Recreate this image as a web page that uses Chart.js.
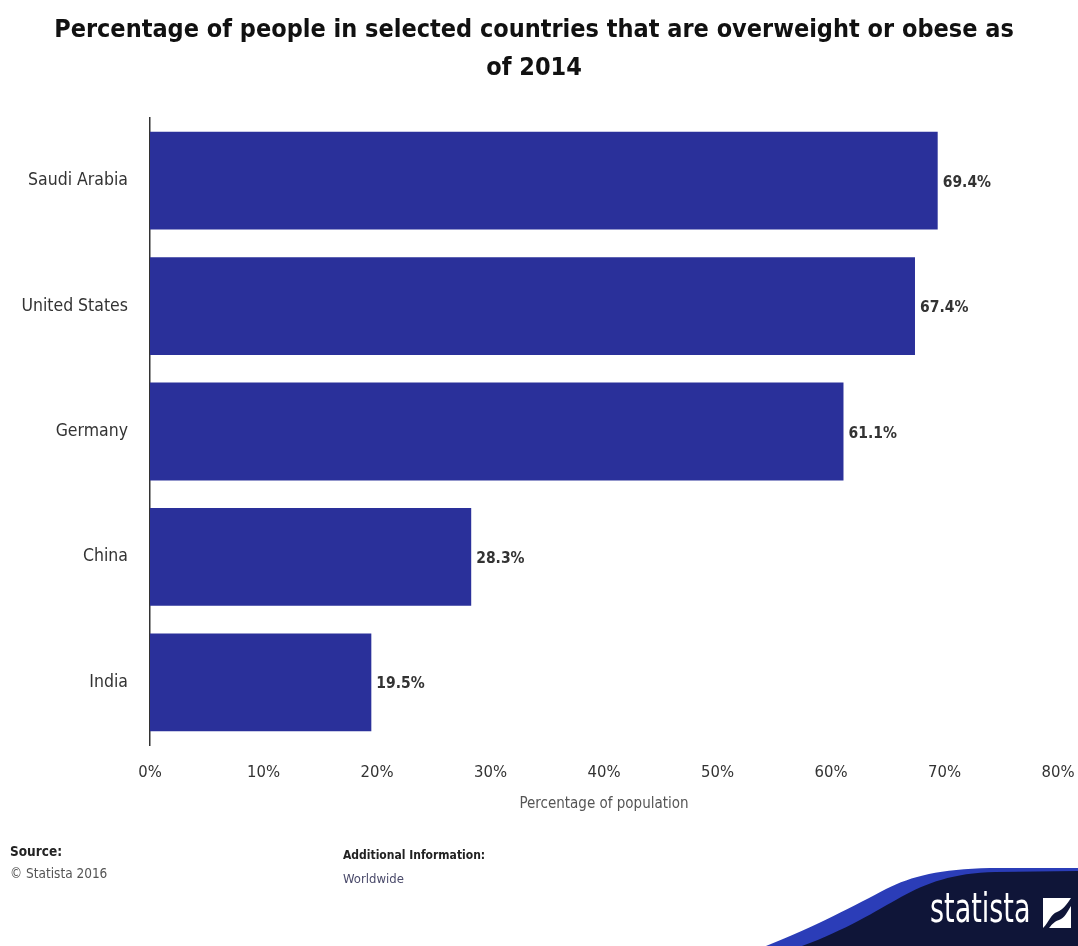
<!DOCTYPE html>
<html>
<head>
<meta charset="utf-8">
<script src="https://cdn.jsdelivr.net/npm/chart.js@4.4.1/dist/chart.umd.min.js"></script>
<style>
  html, body { margin: 0; padding: 0; background: #fff; }
  #wrap { position: relative; width: 1078px; height: 946px; overflow: hidden; font-family: "DejaVu Sans Condensed", "DejaVu Sans", sans-serif; }
  #chart { position: absolute; left: 0; top: 0; }
  .foot { position: absolute; white-space: nowrap; }
  .lbl { font-weight: bold; color: #222; font-size: 13.5px; }
  .val { color: #555; font-size: 13.5px; }
  #swoosh { position: absolute; left: 0; top: 0; }
  #brand { position: absolute; left: 930px; top: 884px; color: #fff; font-size: 40px; line-height: 48px; transform: scaleX(0.75); transform-origin: left top; }
</style>
</head>
<body>
<div id="wrap">
  <canvas id="chart" width="1078" height="946"></canvas>

  <div class="foot lbl" style="left:10px; top:843px;">Source:</div>
  <div class="foot val" style="left:10px; top:865px;">© Statista 2016</div>
  <div class="foot lbl" style="left:343px; top:848px; font-size:12px;">Additional Information:</div>
  <div class="foot val" style="left:343px; top:871px; font-size:13px; color:#4a4a6a;">Worldwide</div>

  <svg id="swoosh" width="1078" height="946" viewBox="0 0 1078 946">
    <path d="M 766 946 C 816 926, 856 905, 886 889 C 912 876, 940 869, 990 868 L 1078 868 L 1078 946 Z" fill="#2b3db8"/>
    <path d="M 802 946 C 846 930, 876 911, 901 897 C 927 883, 952 873, 996 872 L 1078 871 L 1078 946 Z" fill="#0f1538"/>
    <g transform="translate(1043,898)">
      <rect x="0" y="0" width="28" height="30" fill="#fff"/>
      <path d="M 0 30 C 6 24, 8 16, 14 14 C 20 12, 24 6, 28 0 L 28 8 C 24 14, 22 20, 16 22 C 10 24, 8 28, 6 30 Z" fill="#0f1538"/>
    </g>
  </svg>
  <div id="brand">statista</div>
</div>

<script>
// values
const countries = ["Saudi Arabia", "United States", "Germany", "China", "India"];
const shares = [69.4, 67.4, 61.1, 28.3, 19.5];
const xTicks = [0, 10, 20, 30, 40, 50, 60, 70, 80];

const barColor = "#2a309a";
const fontFamily = "'DejaVu Sans Condensed', 'DejaVu Sans', sans-serif";

// write the value next to each bar
const valueLabels = {
  id: "valueLabels",
  afterDatasetsDraw(chart) {
    const ctx = chart.ctx;
    const meta = chart.getDatasetMeta(0);
    ctx.save();
    ctx.font = "bold 15.5px " + fontFamily;
    ctx.fillStyle = "#333";
    ctx.textAlign = "left";
    ctx.textBaseline = "middle";
    meta.data.forEach((bar, i) => {
      ctx.fillText(shares[i].toFixed(1) + "%", bar.x + 5, bar.y + 2);
    });
    ctx.restore();
  }
};

new Chart(document.getElementById("chart"), {
  type: "bar",
  data: {
    labels: countries,
    datasets: [{
      data: shares,
      backgroundColor: barColor,
      borderWidth: 0,
      barPercentage: 0.78,
      categoryPercentage: 1.0
    }]
  },
  options: {
    indexAxis: "y",
    responsive: false,
    animation: false,
    layout: { padding: { left: 10, right: 20, top: 0, bottom: 129 } },
    plugins: {
      legend: { display: false },
      tooltip: { enabled: false },
      title: {
        display: true,
        text: ["Percentage of people in selected countries that are overweight or obese as", "of 2014"],
        color: "#111",
        font: { family: fontFamily, size: 25, weight: "bold", lineHeight: 1.52 },
        padding: { top: 11, bottom: 31 }
      }
    },
    scales: {
      x: {
        min: 0,
        max: 80,
        afterBuildTicks: (scale) => { scale.ticks = xTicks.map((v) => ({ value: v })); },
        afterFit: (scale) => {
          scale.height = 72;
          scale.paddingRight = 0;
        },
        grid: { display: false, drawTicks: false },
        border: { display: false },
        ticks: {
          padding: 18,
          color: "#333",
          font: { family: fontFamily, size: 16.5 },
          callback: (v) => v + "%"
        },
        title: {
          display: true,
          text: "Percentage of population",
          color: "#555",
          font: { family: fontFamily, size: 15 }
        }
      },
      y: {
        afterFit: (scale) => { scale.width = 140; },
        grid: { display: false, drawTicks: false },
        border: { display: true, color: "#333", width: 1.5 },
        ticks: {
          padding: 22,
          color: "#333",
          font: { family: fontFamily, size: 17.5 }
        }
      }
    }
  },
  plugins: [valueLabels]
});
</script>
</body>
</html>
